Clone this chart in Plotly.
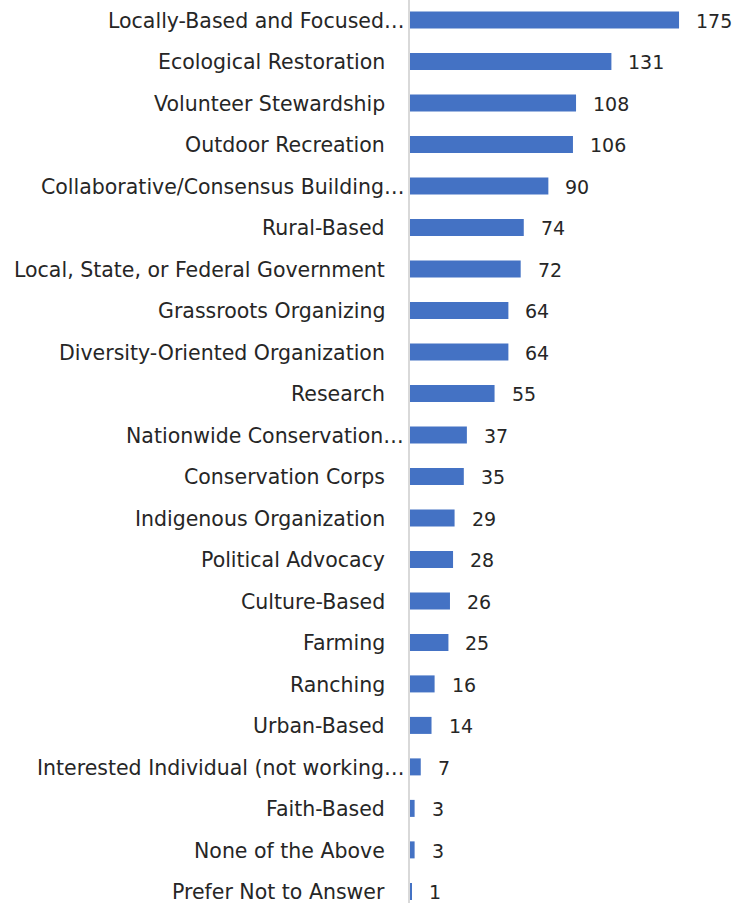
import plotly.graph_objects as go

categories = [
    "Locally-Based and Focused…",
    "Ecological Restoration",
    "Volunteer Stewardship",
    "Outdoor Recreation",
    "Collaborative/Consensus Building…",
    "Rural-Based",
    "Local, State, or Federal Government",
    "Grassroots Organizing",
    "Diversity-Oriented Organization",
    "Research",
    "Nationwide Conservation…",
    "Conservation Corps",
    "Indigenous Organization",
    "Political Advocacy",
    "Culture-Based",
    "Farming",
    "Ranching",
    "Urban-Based",
    "Interested Individual (not working…",
    "Faith-Based",
    "None of the Above",
    "Prefer Not to Answer",
]
values = [175, 131, 108, 106, 90, 74, 72, 64, 64, 55, 37, 35, 29, 28, 26, 25, 16, 14, 7, 3, 3, 1]

FONT = "DejaVu Sans"
TXT = "#262626"
BAR = "#4472C4"

idx = list(range(len(categories)))

fig = go.Figure(go.Bar(
    x=values, y=idx, orientation="h",
    marker=dict(color=BAR, line=dict(width=0)),
    width=0.41,
    hoverinfo="skip",
))

ann = []
for i, (c, v) in enumerate(zip(categories, values)):
    ann.append(dict(x=v, y=i, xref="x", yref="y", text=str(v), showarrow=False,
                    xanchor="left", yanchor="middle", xshift=15, yshift=-1,
                    font=dict(family=FONT, size=19, color=TXT)))
    shift = -4 if c.endswith("…") else -23
    ann.append(dict(x=0, y=i, xref="paper", yref="y", text=c, showarrow=False,
                    xanchor="right", yanchor="middle", xshift=shift, yshift=-1,
                    font=dict(family=FONT, size=20.5, color=TXT)))

fig.update_layout(
    width=739, height=903,
    margin=dict(l=410, r=0, t=0, b=0),
    paper_bgcolor="white", plot_bgcolor="white",
    showlegend=False,
    annotations=ann,
    xaxis=dict(range=[0, 214.0], showgrid=False, zeroline=False, showticklabels=False,
               showline=False, fixedrange=True),
    yaxis=dict(range=[21.28, -0.482], showgrid=False, zeroline=False, showticklabels=False,
               showline=True, linecolor="#d9d9d9", linewidth=2, fixedrange=True),
)

fig.write_html("out.html", config={"displayModeBar": False})
